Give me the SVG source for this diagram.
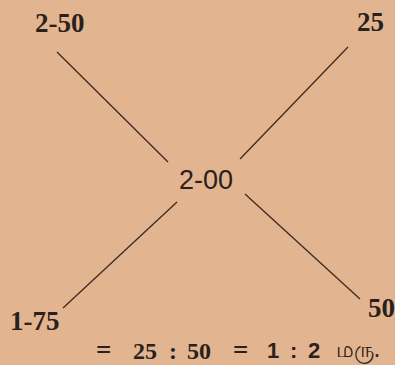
<svg xmlns="http://www.w3.org/2000/svg" width="395" height="365" viewBox="0 0 395 365">
<style>
.bg{fill:#e2b590}
.lbl{font-family:"Liberation Serif","DejaVu Serif",serif;font-weight:bold;font-size:27px;fill:#2b211c}
.ctr{font-family:"Liberation Sans","DejaVu Sans",sans-serif;font-size:27px;fill:#2b211c}
.eq{font-family:"Liberation Serif","DejaVu Serif",serif;font-weight:bold;font-size:24px;fill:#2b211c}
.eqb{font-family:"Liberation Sans","DejaVu Sans",sans-serif;font-weight:bold;font-size:22px;fill:#2b211c}
.conn line{stroke:#3a2a22;stroke-width:1.3;fill:none}
</style>
<rect class="bg" x="0" y="0" width="395" height="365"/>
<g id="connectors" class="conn">
<line x1="57" y1="52" x2="168" y2="162"/>
<line x1="348" y1="47" x2="240" y2="159"/>
<line x1="177" y1="202" x2="63" y2="308"/>
<line x1="245" y1="194" x2="360" y2="299"/>
</g>
<g id="n-250"><text class="lbl" x="35" y="32" font-size="29">2-50</text></g>
<g id="n-25"><text class="lbl" x="357" y="31">25</text></g>
<g id="n-200"><text class="ctr" x="179" y="189">2-00</text></g>
<g id="n-175"><text class="lbl" x="10" y="330" font-size="28">1-75</text></g>
<g id="n-50"><text class="lbl" x="368" y="317">50</text></g>
<g id="equation">
<text class="eq" y="359"><tspan x="96" font-size="27">=</tspan><tspan x="133">25</tspan><tspan x="169">:</tspan><tspan x="187">50</tspan><tspan x="233" font-size="27">=</tspan></text>
<text class="eqb" y="358"><tspan x="267">1</tspan><tspan x="290">:</tspan><tspan x="308">2</tspan></text>
<text x="336" y="357" font-family="'Noto Sans',sans-serif" font-size="22" fill="#2b211c">மரு.</text>
</g>
</svg>
